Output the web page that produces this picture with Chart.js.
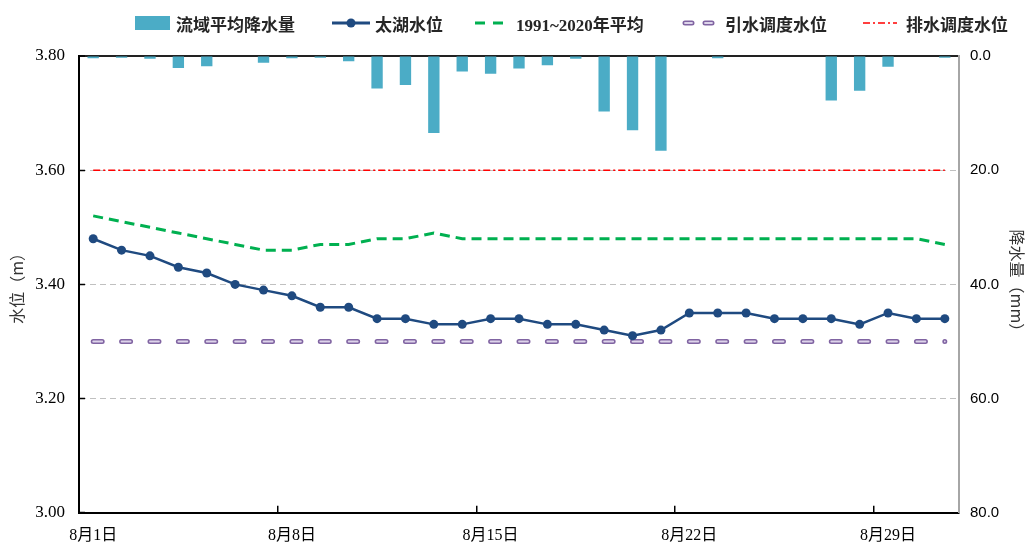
<!DOCTYPE html>
<html>
<head>
<meta charset="utf-8">
<script src="https://cdn.jsdelivr.net/npm/chart.js@4/dist/chart.umd.min.js"></script>
<style>
  body { margin: 0; background: #fff; }
  #wrap { position: relative; width: 1027px; height: 543px; }
  #legend { position: absolute; left: 0; top: 0; width: 1027px; height: 46px;
    font-family: "Liberation Serif", "Noto Sans CJK SC", serif; font-weight: bold;
    font-size: 17px; color: #262626; }
  #legend .item { position: absolute; top: 11px; height: 24px; display: flex; align-items: center; white-space: nowrap; }
  #legend svg { display: block; margin-right: 5px; }
</style>
</head>
<body>
<div id="wrap">
  <canvas id="chart"></canvas>
  <div id="legend"></div>
</div>
<script>
// 8月逐日数据
const days = Array.from({ length: 31 }, (_, i) => '8月' + (i + 1) + '日');

// 流域平均降水量 (mm)
const rain = [0.4, 0.3, 0.5, 2.1, 1.8, 0.1, 1.2, 0.4, 0.3, 0.9,
              5.7, 5.1, 13.5, 2.7, 3.1, 2.2, 1.6, 0.5, 9.7, 13.0,
              16.6, 0, 0.4, 0, 0.1, 0, 7.8, 6.1, 1.9, 0.1, 0.3];

// 太湖水位 (m)
const taihu = [3.48, 3.46, 3.45, 3.43, 3.42, 3.40, 3.39, 3.38, 3.36, 3.36,
               3.34, 3.34, 3.33, 3.33, 3.34, 3.34, 3.33, 3.33, 3.32, 3.31,
               3.32, 3.35, 3.35, 3.35, 3.34, 3.34, 3.34, 3.33, 3.35, 3.34, 3.34];

// 1991~2020年平均
const avg = [3.52, 3.51, 3.50, 3.49, 3.48, 3.47, 3.46, 3.46, 3.47, 3.47,
             3.48, 3.48, 3.49, 3.48, 3.48, 3.48, 3.48, 3.48, 3.48, 3.48,
             3.48, 3.48, 3.48, 3.48, 3.48, 3.48, 3.48, 3.48, 3.48, 3.48, 3.47];

// 调度水位
const yinshui = days.map(() => 3.30);
const paishui = days.map(() => 3.60);

const levelTicks = [3.00, 3.20, 3.40, 3.60, 3.80];
const rainTicks = [0, 20, 40, 60, 80];

const NAVY = '#1f4a80';
const BAR = '#4bacc6';
const GREEN = '#00b050';
const PURPLE = '#8064a2';
const RED = '#ff0000';

const step = 880 / 31;

/**
 * Legend (HTML)
 */
function buildLegend() {
    const items = [
        { left: 135, text: '流域平均降水量', svg: `<svg width="36" height="16"><rect x="0" y="1" width="35" height="14" fill="${BAR}"/></svg>` },
        { left: 332, text: '太湖水位', svg: `<svg width="38" height="16"><line x1="0" y1="8" x2="38" y2="8" stroke="${NAVY}" stroke-width="3"/><circle cx="19" cy="8" r="4.5" fill="${NAVY}"/></svg>` },
        { left: 475, text: '1991~2020年平均', svg: `<svg width="36" height="16"><line x1="0" y1="8" x2="28" y2="8" stroke="${GREEN}" stroke-width="3" stroke-dasharray="10 8"/></svg>` },
        { left: 682, text: '引水调度水位', svg: `<svg width="38" height="16"><line x1="3" y1="8" x2="36" y2="8" stroke="${PURPLE}" stroke-width="5" stroke-linecap="round" stroke-dasharray="7 13"/><line x1="3" y1="8" x2="36" y2="8" stroke="#ddd4ea" stroke-width="1.8" stroke-linecap="round" stroke-dasharray="7 13"/></svg>` },
        { left: 863, text: '排水调度水位', svg: `<svg width="38" height="16"><line x1="0" y1="8" x2="34" y2="8" stroke="${RED}" stroke-width="1.5" stroke-dasharray="7 3 2 3"/></svg>` }
    ];
    const el = document.getElementById('legend');
    items.forEach(it => {
        const d = document.createElement('div');
        d.className = 'item';
        d.style.left = it.left + 'px';
        d.innerHTML = it.svg + '<span>' + it.text + '</span>';
        el.appendChild(d);
    });
}

buildLegend();

const ctx = document.getElementById('chart').getContext('2d');

new Chart(ctx, {
    type: 'bar',
    data: {
        labels: days,
        datasets: [{
            type: 'line',
            label: '太湖水位',
            data: taihu,
            yAxisID: 'y',
            borderColor: NAVY,
            backgroundColor: NAVY,
            borderWidth: 2.5,
            pointRadius: 4.5,
            pointBackgroundColor: NAVY,
            pointBorderWidth: 0,
            tension: 0,
            order: 0
        }, {
            type: 'line',
            label: '引水调度水位',
            data: yinshui,
            yAxisID: 'y',
            borderColor: '#ddd4ea',
            borderWidth: 1.8,
            borderCapStyle: 'round',
            borderDash: [9, step - 9],
            pointRadius: 0,
            order: 1
        }, {
            type: 'line',
            label: '引水调度水位边框',
            data: yinshui,
            yAxisID: 'y',
            borderColor: PURPLE,
            borderWidth: 5,
            borderCapStyle: 'round',
            borderDash: [9, step - 9],
            pointRadius: 0,
            order: 2
        }, {
            type: 'line',
            label: '1991~2020年平均',
            data: avg,
            yAxisID: 'y',
            borderColor: GREEN,
            borderWidth: 3,
            borderDash: [10, 6],
            pointRadius: 0,
            tension: 0,
            order: 3
        }, {
            type: 'line',
            label: '排水调度水位',
            data: paishui,
            yAxisID: 'y',
            borderColor: RED,
            borderWidth: 1.5,
            borderDash: [7, 3, 2, 3],
            pointRadius: 0,
            order: 4
        }, {
            label: '流域平均降水量',
            data: rain,
            yAxisID: 'y2',
            backgroundColor: BAR,
            barPercentage: 0.4,
            categoryPercentage: 1,
            order: 5
        }]
    },
    options: {
        responsive: true,
        maintainAspectRatio: false,
        animation: false,
        layout: { padding: { top: 56, left: 0, right: 0, bottom: 0 } },
        plugins: {
            legend: { display: false },
            tooltip: { enabled: false }
        },
        scales: {
            x: {
                offset: true,
                afterFit: s => { s.height = 29; },
                border: { color: '#000', width: 2 },
                grid: {
                    offset: true,
                    drawOnChartArea: false,
                    tickLength: -7,
                    lineWidth: 1.5,
                    color: c => (c.index % 7 === 0 && c.index > 0 && c.index < 31) ? '#000' : 'rgba(0,0,0,0)'
                },
                ticks: {
                    autoSkip: false,
                    maxRotation: 0,
                    padding: 20,
                    color: '#000',
                    font: { family: '"Liberation Serif", "Noto Sans CJK SC"', size: 16 },
                    callback: function(v, i) { return i % 7 === 0 ? days[i] : ''; }
                }
            },
            y: {
                position: 'left',
                min: 3.0,
                max: 3.8,
                afterFit: s => { s.width = 79; },
                afterBuildTicks: s => { s.ticks = levelTicks.map(v => ({ value: v })); },
                border: {
                    color: '#000',
                    width: 2,
                    dash: c => (c.tick && c.tick.value >= 3.79) ? [] : [6, 4]
                },
                grid: {
                    tickLength: -6,
                    tickColor: '#000',
                    tickWidth: 1.5,
                    lineWidth: c => (c.tick && c.tick.value >= 3.79) ? 2 : 1,
                    color: c => {
                        if (!c.tick) return 'rgba(0,0,0,0)';
                        if (c.tick.value >= 3.79) return '#222';
                        if (c.tick.value <= 3.01) return 'rgba(0,0,0,0)';
                        return '#c0c0c0';
                    }
                },
                ticks: {
                    padding: 20,
                    color: '#000',
                    font: { family: '"Liberation Serif"', size: 17 },
                    callback: v => Number(v).toFixed(2)
                },
                title: {
                    display: true,
                    text: '水位（m）',
                    color: '#333',
                    padding: { top: 7, bottom: 0 },
                    font: { family: '"Noto Sans CJK SC"', size: 16 }
                }
            },
            y2: {
                position: 'right',
                reverse: true,
                min: 0,
                max: 80,
                afterFit: s => { s.width = 68; },
                afterBuildTicks: s => { s.ticks = rainTicks.map(v => ({ value: v })); },
                border: { color: '#a6a6a6', width: 2 },
                grid: { drawOnChartArea: false, drawTicks: false },
                ticks: {
                    padding: 11,
                    color: '#000',
                    font: { family: '"Liberation Sans"', size: 15 },
                    callback: v => Number(v).toFixed(1)
                },
                title: {
                    display: true,
                    text: '降水量（mm）',
                    color: '#333',
                    padding: { top: 0, bottom: 0 },
                    font: { family: '"Noto Sans CJK SC"', size: 16 }
                }
            }
        }
    }
});
</script>
</body>
</html>
